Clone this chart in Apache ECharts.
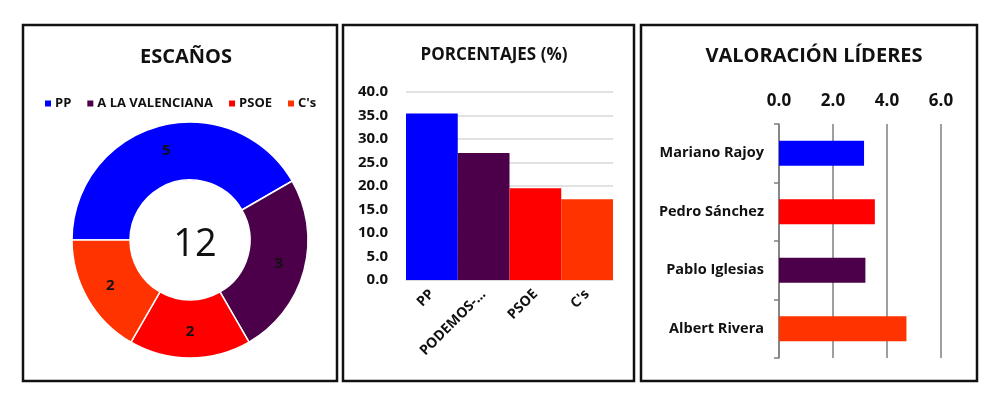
<!DOCTYPE html>
<html>
<head>
<meta charset="utf-8">
<script src="https://cdn.jsdelivr.net/npm/echarts@6/dist/echarts.min.js"></script>
<style>
    html, body { margin: 0; padding: 0; background: #fff; }
    #main { width: 1000px; height: 399px; }
</style>
</head>
<body>
<div id="main"></div>
<script>
// escaños
var seatParties = ['PP', 'A LA VALENCIANA', 'PSOE', "C's"];
var seatValues = [5, 3, 2, 2];
var seatColors = ['#0000ff', '#4b0049', '#ff0000', '#ff3300'];

// porcentajes
var pctParties = ['PP', 'PODEMOS-COMPROMÍS', 'PSOE', "C's"];
var pctValues = [35.4, 27.0, 19.5, 17.2];
var pctColors = ['#0000ff', '#4b0049', '#ff0000', '#ff3300'];

// valoración líderes
var leaders = ['Mariano Rajoy', 'Pedro Sánchez', 'Pablo Iglesias', 'Albert Rivera'];
var leaderValues = [3.15, 3.55, 3.2, 4.72];
var leaderColors = ['#0000ff', '#ff0000', '#4b0049', '#ff3300'];
var leaderTicks = [0, 2, 4, 6];

var FONT = 'Open Sans';

var totalSeats = seatValues.reduce(function (a, b) { return a + b; }, 0);

function box(x, y, w, h) {
    return {
        type: 'rect',
        shape: {x: x, y: y, width: w, height: h},
        style: {fill: 'none', stroke: '#111', lineWidth: 2.5},
        silent: true
    };
}

var chart = echarts.init(document.getElementById('main'));

chart.setOption({
    backgroundColor: '#fff',
    animation: false,
    textStyle: {fontFamily: FONT},
    graphic: [
        box(23, 25, 314, 356),
        box(343, 25, 291, 356),
        box(641, 25, 336, 356)
    ],
    title: [
        {
            text: 'ESCAÑOS', left: 181, top: 42, textAlign: 'center',
            textStyle: {fontFamily: FONT, fontSize: 20, fontWeight: 'bold', color: '#111'}
        },
        {
            text: 'PORCENTAJES (%)', left: 489, top: 42, textAlign: 'center',
            textStyle: {fontFamily: FONT, fontSize: 17, fontWeight: 'bold', color: '#111'}
        },
        {
            text: 'VALORACIÓN LÍDERES', left: 809, top: 41, textAlign: 'center',
            textStyle: {fontFamily: FONT, fontSize: 20, fontWeight: 'bold', color: '#111'}
        },
        {
            text: String(totalSeats), left: 190, top: 240, textAlign: 'center', textVerticalAlign: 'middle',
            textStyle: {fontFamily: FONT, fontSize: 38, fontWeight: 'normal', color: '#111'}
        }
    ],
    legend: {
        data: seatParties,
        left: 38, top: 92,
        orient: 'horizontal',
        icon: 'rect',
        itemWidth: 8, itemHeight: 8, itemGap: 14,
        textStyle: {fontFamily: FONT, fontSize: 13, fontWeight: 'bold', color: '#111', padding: [0, 0, 0, -2]}
    },
    grid: [
        {left: 406, right: 387, top: 92, bottom: 119},
        {left: 779, right: 59, top: 124, bottom: 41}
    ],
    xAxis: [
        {
            gridIndex: 0,
            type: 'category',
            data: pctParties,
            axisLine: {show: true, lineStyle: {color: '#d9d9d9'}},
            axisTick: {show: false},
            axisLabel: {
                rotate: 45, color: '#111', fontFamily: FONT, fontSize: 14, fontWeight: 'bold',
                interval: 0, margin: 12,
                formatter: function (n) { return n.length > 10 ? n.slice(0, 8) + '...' : n; }
            }
        },
        {
            gridIndex: 1,
            type: 'value',
            position: 'top',
            min: leaderTicks[0], max: leaderTicks[leaderTicks.length - 1], interval: 2,
            axisLine: {show: false},
            axisTick: {show: false},
            splitLine: {show: true, lineStyle: {color: '#7f7f7f', width: 1.5}},
            axisLabel: {
                color: '#111', fontFamily: FONT, fontSize: 17, fontWeight: 'bold', margin: 14,
                formatter: function (v) { return v.toFixed(1); }
            }
        }
    ],
    yAxis: [
        {
            gridIndex: 0,
            type: 'value',
            min: 0, max: 40, interval: 5,
            axisLine: {show: false},
            axisTick: {show: false},
            splitLine: {show: true, lineStyle: {color: '#d9d9d9', width: 1.5}},
            axisLabel: {
                color: '#111', fontFamily: FONT, fontSize: 15, fontWeight: 'bold', margin: 18,
                formatter: function (v) { return v.toFixed(1); }
            }
        },
        {
            gridIndex: 1,
            type: 'category',
            data: leaders,
            inverse: true,
            axisLine: {show: true, lineStyle: {color: '#7f7f7f', width: 1.5}},
            axisTick: {show: true, length: 5, lineStyle: {color: '#7f7f7f', width: 1.5}},
            axisLabel: {color: '#111', fontFamily: FONT, fontSize: 14.5, fontWeight: 'bold', margin: 15}
        }
    ],
    series: [
        {
            type: 'pie',
            center: [190, 240],
            radius: [60, 118],
            startAngle: 180,
            clockwise: true,
            avoidLabelOverlap: false,
            itemStyle: {borderColor: '#fff', borderWidth: 1.5},
            label: {
                show: true, position: 'inside', color: '#111',
                fontFamily: FONT, fontSize: 15, fontWeight: 'bold',
                formatter: '{c}'
            },
            labelLine: {show: false},
            emphasis: {disabled: true},
            data: seatParties.map(function (n, i) {
                return {name: n, value: seatValues[i], itemStyle: {color: seatColors[i]}};
            })
        },
        {
            type: 'bar',
            xAxisIndex: 0, yAxisIndex: 0,
            barCategoryGap: 0,
            data: pctValues.map(function (v, i) {
                return {value: v, itemStyle: {color: pctColors[i]}};
            })
        },
        {
            type: 'bar',
            xAxisIndex: 1, yAxisIndex: 1,
            barCategoryGap: '57%',
            data: leaderValues.map(function (v, i) {
                return {value: v, itemStyle: {color: leaderColors[i]}};
            })
        }
    ]
});
</script>
</body>
</html>
